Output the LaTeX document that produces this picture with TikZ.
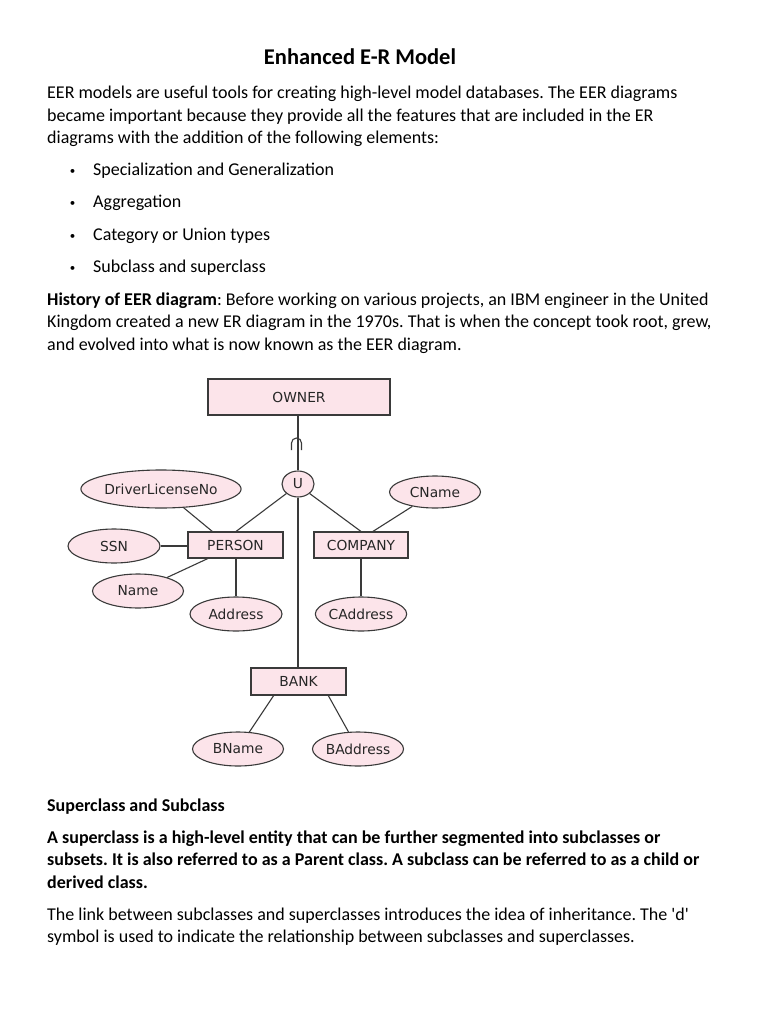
\documentclass[tikz,border=0pt]{standalone}
\usepackage{fontspec}
\setmainfont{Carlito}
\newfontfamily\diag{DejaVu Sans}
\usetikzlibrary{shapes.geometric}
\definecolor{pinkfill}{HTML}{FCE4EA}
\definecolor{edgec}{HTML}{3A3A3A}
\frenchspacing
\begin{document}
\begin{tikzpicture}[x=1pt,y=-1pt,
  body/.style={anchor=base west,inner sep=0pt,font=\fontsize{18}{22}\selectfont},
  bodyb/.style={body,font=\fontsize{18}{22}\selectfont\bfseries},
  bul/.style={anchor=base,inner sep=0pt,font=\fontsize{11}{13}\selectfont},
  ent/.style={draw=edgec,fill=pinkfill,line width=1.1pt,rectangle,inner sep=0pt,text=black!85,font=\diag\fontsize{13.8}{15}\selectfont},
  attr/.style={draw=edgec,fill=pinkfill,line width=1.1pt,ellipse,inner sep=0pt,text=black!85,font=\diag\fontsize{13.8}{15}\selectfont},
  conn/.style={draw=edgec,line width=1.1pt}]
\useasboundingbox (0,0) rectangle (768,1024);
\fill[white] (0,0) rectangle (768,1024);
% title
\node[anchor=base,inner sep=0pt,font=\fontsize{22.5}{26}\selectfont\bfseries] (title) at (360,65) {Enhanced E-R Model};
\node[body] (p1) at (47,99) {EER models are useful tools for creating high-level model databases. The EER diagrams};
\node[body] (p2) at (47,121.5) {became important because they provide all the features that are included in the ER};
\node[body] (p3) at (47,143.5) {diagrams with the addition of the following elements:};
\foreach \y/\t [count=\i] in {175.5/Specialization and Generalization,208/Aggregation,240.5/Category or Union types,272.5/Subclass and superclass}{
  \node[bul] (bd\i) at (72.5,\y-1) {•};
  \node[body] (b\i) at (93,\y) {\t};
}
\node[body] (h1) at (47,305.5) {\textbf{History of EER diagram}: Before working on various projects, an IBM engineer in the United};
\node[body] (h2) at (47,327.5) {Kingdom created a new ER diagram in the 1970s. That is when the concept took root, grew,};
\node[body] (h3) at (47,350) {and evolved into what is now known as the EER diagram.};
% diagram
\node[ent,minimum width=182pt,minimum height=36pt] (owner) at (299,397) {OWNER};
\node[attr,minimum width=32pt,minimum height=26pt] (u) at (298,484) {U};
\node[attr,minimum width=150pt,minimum height=38pt] (dl) at (161,489) {DriverLicenseNo};
\node[attr,minimum width=91pt,minimum height=32pt] (cname) at (435,492) {CName};
\node[ent,minimum width=95pt,minimum height=26pt] (person) at (235.5,545) {PERSON};
\node[ent,minimum width=94pt,minimum height=26pt] (company) at (361,545) {COMPANY};
\node[attr,minimum width=92pt,minimum height=34pt] (ssn) at (114,546) {SSN};
\node[attr,minimum width=91pt,minimum height=34pt] (name) at (138,591) {Name};
\node[attr,minimum width=92pt,minimum height=34pt] (addr) at (236,614) {Address};
\node[attr,minimum width=91pt,minimum height=34pt] (caddr) at (361,614) {CAddress};
\node[ent,minimum width=95pt,minimum height=27pt] (bank) at (298.5,681.5) {BANK};
\node[attr,minimum width=91pt,minimum height=34pt] (bname) at (238,749) {BName};
\node[attr,minimum width=90pt,minimum height=34pt] (baddr) at (358,749) {BAddress};
% connectors
\draw[conn] (owner.south -| u.north) -- (u.north);
\draw[conn] (291.5,450) -- (291.5,443) arc[start angle=180,end angle=360,radius=5] -- (301.5,450);
\draw[conn] (u.south) -- (bank.north -| u.south);
\draw[conn] (u.south west) -- (person.north -| addr.north);
\draw[conn] (u.south east) -- (company.north -| caddr.north);
\draw[conn] (dl) -- (213,532);
\draw[conn] (cname) -- (372,532);
\draw[conn] (ssn.east) -- (person.west |- ssn.east);
\draw[conn] (209,558) -- (name);
\draw[conn] (person.south -| addr.north) -- (addr.north);
\draw[conn] (company.south -| caddr.north) -- (caddr.north);
\draw[conn] (274,695) -- (bname);
\draw[conn] (328,695) -- (baddr);
% lower text
\node[bodyb] (s1) at (47,811) {Superclass and Subclass};
\node[bodyb] (s2) at (47,843.5) {A superclass is a high-level entity that can be further segmented into subclasses or};
\node[bodyb] (s3) at (47,865.5) {subsets. It is also referred to as a Parent class. A subclass can be referred to as a child or};
\node[bodyb] (s4) at (47,888) {derived class.};
\node[body] (t1) at (47,920) {The link between subclasses and superclasses introduces the idea of inheritance. The \textquotesingle d\textquotesingle};
\node[body] (t2) at (47,942.5) {symbol is used to indicate the relationship between subclasses and superclasses.};
\end{tikzpicture}
\end{document}
